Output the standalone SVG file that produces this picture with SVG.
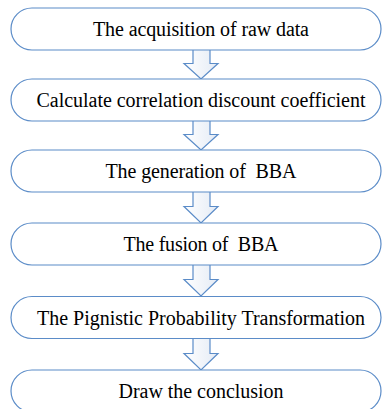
<svg xmlns="http://www.w3.org/2000/svg" width="382" height="409" viewBox="0 0 382 409">
<defs>
<linearGradient id="ag" x1="0" y1="0" x2="1" y2="0">
<stop offset="0" stop-color="#ffffff"/>
<stop offset="1" stop-color="#e4ebf5"/>
</linearGradient>
<rect id="pill" x="0" y="0" width="370" height="42" rx="21" ry="21" fill="#ffffff" stroke="#5b8cc8" stroke-width="1.2"/>
</defs>
<rect width="382" height="409" fill="#ffffff"/>
<g id="connectors" fill="url(#ag)" stroke="#5b8cc8" stroke-width="1.2">
<path d="M193,50 V63.5 H184 L201,79 L218,63.5 H210 V50"/>
<path d="M193,121 V134.5 H184 L201,150 L218,134.5 H210 V121"/>
<path d="M193,192 V206.5 H184 L201,223 L218,206.5 H210 V192"/>
<path d="M193,265 V279.5 H184 L201,296 L218,279.5 H210 V265"/>
<path d="M193,339 V353.5 H184 L201,370 L218,353.5 H210 V339"/>
</g>
<g id="n1"><use href="#pill" x="11" y="8"/><text x="93" y="36" font-family="Liberation Serif" font-size="20" textLength="216">The acquisition of raw data</text></g>
<g id="n2"><use href="#pill" x="11" y="79"/><text x="36.5" y="107" font-family="Liberation Serif" font-size="20" textLength="329">Calculate correlation discount coefficient</text></g>
<g id="n3"><use href="#pill" x="11" y="150"/><text x="105.5" y="178" font-family="Liberation Serif" font-size="20" textLength="191" xml:space="preserve">The generation of  BBA</text></g>
<g id="n4"><use href="#pill" x="11" y="223"/><text x="123.5" y="251" font-family="Liberation Serif" font-size="20" textLength="155" xml:space="preserve">The fusion of  BBA</text></g>
<g id="n5"><use href="#pill" x="11" y="296.5"/><text x="37" y="324.5" font-family="Liberation Serif" font-size="20" textLength="328">The Pignistic Probability Transformation</text></g>
<g id="n6"><use href="#pill" x="11" y="370"/><text x="118.5" y="398" font-family="Liberation Serif" font-size="20" textLength="165">Draw the conclusion</text></g>
</svg>
